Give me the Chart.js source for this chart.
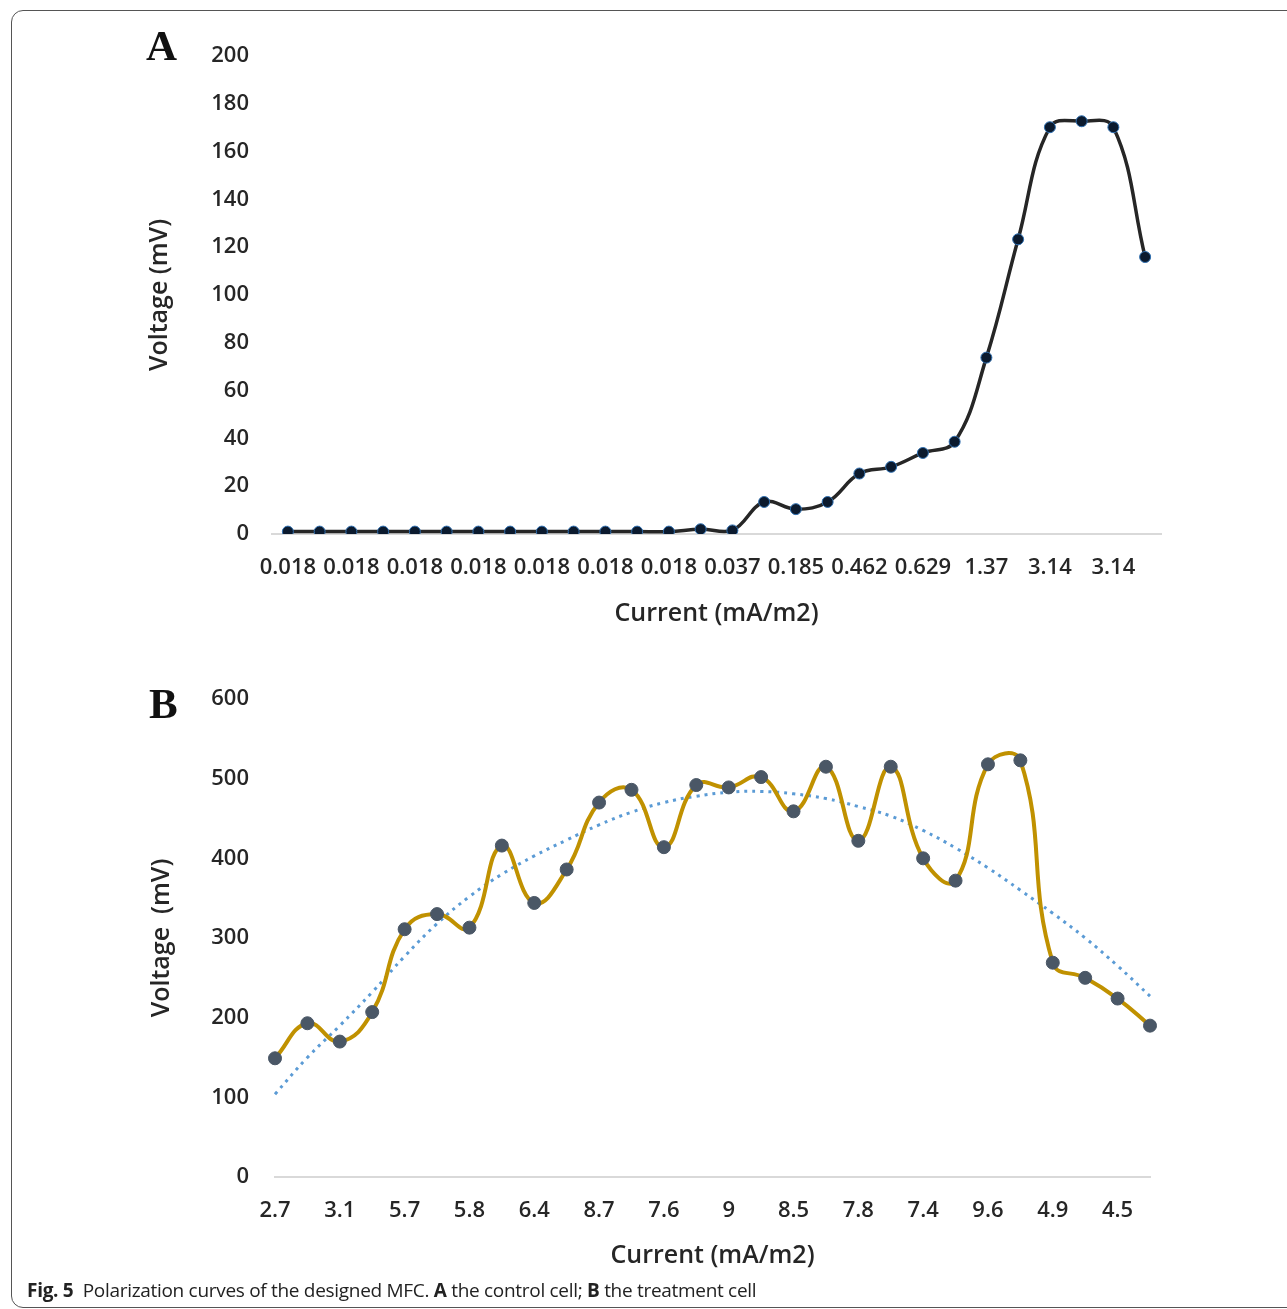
<!DOCTYPE html>
<html>
<head>
<meta charset="utf-8">
<script src="https://cdn.jsdelivr.net/npm/chart.js@4.4.0/dist/chart.umd.min.js"></script>
<style>
  body { margin: 0; background: #fff; width: 1287px; height: 1309px; position: relative; overflow: hidden; }
  #frame { position: absolute; left: 11px; top: 10px; width: 1400px; height: 1296px; border: 1.5px solid #555; border-radius: 12px; }
  canvas { position: absolute; left: 0; }
  .letter { position: absolute; font-family: "Liberation Serif", serif; font-weight: bold; font-size: 43px; color: #111; }
  #caption { position: absolute; left: 27px; top: 1277px; font-family: "Open Sans", sans-serif; font-size: 19px; color: #222; letter-spacing: -0.3px; }
  #caption b { font-weight: 700; }
</style>
</head>
<body>
<div id="frame"></div>
<canvas id="chartA" width="1287" height="650" style="top:0"></canvas>
<canvas id="chartB" width="1287" height="630" style="top:650px"></canvas>
<div class="letter" style="left:146px;top:21px">A</div>
<div class="letter" style="left:149px;top:679px">B</div>
<div id="caption"><b>Fig. 5</b>&nbsp; Polarization curves of the designed MFC. <b>A</b> the control cell; <b>B</b> the treatment cell</div>
<script>
// panel A - control cell
const currentA = ["0.018","0.018","0.018","0.018","0.018","0.018","0.018","0.018","0.018","0.018","0.018","0.018","0.018","0.037",
                  "0.037","0.248","0.185","0.248","0.462","0.518","0.629","0.714","1.37","2.28","3.14","3.19","3.14","2.14"];
const voltageA = [1,1,1,1,1,1,1,1,1,1,1,1,1,2,1.5,13.4,10.4,13.4,25.3,28.1,33.9,38.6,73.8,123.3,170.2,172.7,170.2,115.9];

// panel B - treatment cell
const currentB = ["2.7","3.6","3.1","3.8","5.7","6.1","5.8","7.7","6.4","7.1","8.7","9","7.6","9.1",
                  "9","9.3","8.5","9.5","7.8","9.5","7.4","6.9","9.6","9.7","4.9","4.6","4.5","3.5"];
const voltageB = [149,193,170,207,311,330,313,416,344,386,470,486,414,492,489,502,459,515,422,515,400,372,518,523,269,250,224,190];
const trendB = [104,150,190,232,277,318,352,380,403,423,442,458,470,478,483,484,481,475,465,453,435,413,388,360,331,300,265,227];

const tickFont = { family: "'Open Sans', sans-serif", size: 22, weight: 600 };
const titleFont = { family: "'Open Sans', sans-serif", size: 25, weight: 600 };
const textColor = "#262626";

function everyOther(val, index) {
  return index % 2 === 0 ? this.getLabelForValue(val) : "";
}

new Chart("chartA", {
  type: "line",
  data: {
    labels: currentA,
    datasets: [{
      data: voltageA,
      borderColor: "#262626",
      borderWidth: 3.5,
      tension: 0.4,
      pointRadius: 5.5,
      pointBackgroundColor: "#0b1a2e",
      pointBorderColor: "#2f6fb0",
      pointBorderWidth: 1
    }]
  },
  options: {
    responsive: false,
    animation: false,
    layout: { padding: { left: 143, right: 126, top: 56, bottom: 0 } },
    plugins: { legend: { display: false }, tooltip: { enabled: false } },
    scales: {
      x: {
        offset: true,
        grid: { display: false, drawTicks: false },
        border: { display: true, color: "#d9d9d9", width: 2 },
        ticks: { autoSkip: false, maxRotation: 0, minRotation: 0, padding: 21, font: tickFont, color: textColor, callback: everyOther },
        title: { display: true, text: "Current (mA/m2)", font: titleFont, color: textColor, padding: { top: 0, bottom: 21 } },
        afterFit: s => { s.height = 116; }
      },
      y: {
        min: 0, max: 200,
        grid: { display: false, drawTicks: false },
        border: { display: false },
        ticks: { stepSize: 20, padding: 23, font: tickFont, color: textColor },
        title: { display: true, text: "Voltage (mV)", font: titleFont, color: textColor, padding: { top: 2, bottom: 0 } },
        afterFit: s => { s.width = 129; }
      }
    }
  }
});

new Chart("chartB", {
  type: "line",
  data: {
    labels: currentB,
    datasets: [{
      data: voltageB,
      borderColor: "#c09100",
      borderWidth: 4,
      tension: 0.45,
      pointRadius: 6.5,
      pointBackgroundColor: "#4a5766",
      pointBorderColor: "#4a5766",
      pointBorderWidth: 1
    }, {
      data: trendB,
      borderColor: "#5b9bd5",
      borderWidth: 3,
      borderDash: [3, 5],
      tension: 0.4,
      pointRadius: 0
    }]
  },
  options: {
    responsive: false,
    animation: false,
    layout: { padding: { left: 145, right: 137, top: 49, bottom: 0 } },
    plugins: { legend: { display: false }, tooltip: { enabled: false } },
    scales: {
      x: {
        offset: false,
        grid: { display: false, drawTicks: false },
        border: { display: true, color: "#d9d9d9", width: 2 },
        ticks: { autoSkip: false, maxRotation: 0, minRotation: 0, padding: 21, font: tickFont, color: textColor, callback: everyOther },
        title: { display: true, text: "Current (mA/m2)", font: titleFont, color: textColor, padding: { top: 0, bottom: 9 } },
        afterFit: s => { s.height = 103; }
      },
      y: {
        min: 0, max: 600,
        grid: { display: false, drawTicks: false },
        border: { display: false },
        ticks: { stepSize: 100, padding: 26, font: tickFont, color: textColor },
        title: { display: true, text: "Voltage  (mV)", font: titleFont, color: textColor, padding: { top: 2, bottom: 0 } },
        afterFit: s => { s.width = 130; }
      }
    }
  }
});
</script>
</body>
</html>
